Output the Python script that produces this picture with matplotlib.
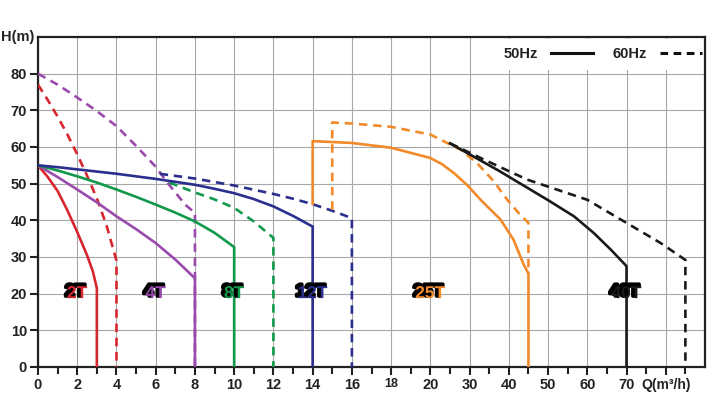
import numpy as np
import matplotlib
matplotlib.use("Agg")
import matplotlib.pyplot as plt
import matplotlib.patheffects as pe
from matplotlib.lines import Line2D

plt.rcParams['font.family'] = ['Liberation Sans', 'DejaVu Sans']

# ---------------- data ----------------
# 2T
q_2t_50 = [0, 0.5, 1, 1.5, 2, 2.5, 2.8, 3, 3]
h_2t_50 = [55, 51.8, 48, 42.7, 36.8, 30.5, 26, 21.5, 0]
q_2t_60 = [0, 0.5, 1, 1.5, 2, 2.5, 3, 3.5, 4, 4]
h_2t_60 = [77, 72.8, 68.3, 63.4, 58, 52.2, 46, 38.5, 29, 0]
# 4T
q_4t_50 = [0, 1, 2, 3, 4, 5, 6, 7, 8, 8]
h_4t_50 = [55, 51.8, 48.4, 44.9, 41.1, 37.6, 33.8, 29.3, 24.2, 0]
q_4t_60 = [0, 1, 2, 3, 4, 5, 6, 6.7, 7.5, 8, 8]
h_4t_60 = [80, 77, 73.5, 69.8, 65.7, 60.3, 54.6, 49.6, 44.3, 42, 0]
# 8T
q_8t_50 = [0, 1, 2, 3, 4, 5, 6, 7, 8, 9, 10, 10]
h_8t_50 = [55, 53.6, 52, 50.3, 48.4, 46.4, 44.3, 42.1, 39.7, 36.6, 32.7, 0]
q_8t_60 = [6.7, 8, 9, 10, 11, 12, 12]
h_8t_60 = [50.3, 47.6, 45.7, 43.4, 39.7, 35.2, 0]
# 12T
q_12t_50 = [0, 1, 2, 3, 4, 5, 6, 7, 8, 9, 10, 11, 12, 13, 14, 14]
h_12t_50 = [55, 54.5, 53.9, 53.3, 52.7, 52, 51.3, 50.5, 49.7, 48.6, 47.4, 45.8, 43.8, 41.2, 38.3, 0]
q_12t_60 = [6.2, 8, 10, 12, 13, 14, 15, 16, 16]
h_12t_60 = [52.7, 51.4, 49.5, 47.2, 45.9, 44.4, 42.6, 40.6, 0]
# 25T
q_25t_50 = [14, 14, 16, 18, 20, 23, 26, 29.5, 32.8, 37.9, 41.2, 43.8, 45, 45]
h_25t_50 = [44.5, 61.6, 61.1, 59.8, 57, 55.3, 52.9, 49.5, 45.6, 40.2, 34.7, 27.9, 25.5, 0]
q_25t_60 = [15, 15, 16, 18, 20, 25, 27.7, 31.9, 36.2, 39.6, 42.5, 45, 45]
h_25t_60 = [42.9, 66.7, 66.4, 65.5, 63.4, 60.7, 59.3, 55.6, 50.6, 45.6, 42, 39.3, 25.5]
# 40T
q_40t_50 = [25, 37.5, 50, 56.6, 61.7, 66, 70, 70]
h_40t_50 = [61, 53.5, 45.5, 41.1, 36.5, 32, 27.5, 0]
q_40t_60 = [25, 33.6, 44.7, 60, 70, 78.7, 85, 85]
h_40t_60 = [61, 56.6, 51.1, 45.6, 39.3, 33.8, 29.2, 0]

series = [
    ("2T", "#d7262e", q_2t_50, h_2t_50, q_2t_60, h_2t_60, 2),
    ("4T", "#9a4aad", q_4t_50, h_4t_50, q_4t_60, h_4t_60, 6),
    ("8T", "#10994a", q_8t_50, h_8t_50, q_8t_60, h_8t_60, 10),
    ("12T", "#2b2f8e", q_12t_50, h_12t_50, q_12t_60, h_12t_60, 14),
    ("25T", "#f28a2a", q_25t_50, h_25t_50, q_25t_60, h_25t_60, 20),
    ("40T", "#1a1a1a", q_40t_50, h_40t_50, q_40t_60, h_40t_60, 70),
]
label_h = 20

x_major = [0, 2, 4, 6, 8, 10, 12, 14, 16, 18, 20, 30, 40, 50, 60, 70, 80]
x_labels = ["0", "2", "4", "6", "8", "10", "12", "14", "16", "18", "20",
            "30", "40", "50", "60", "70", "Q(m³/h)"]
x_minor = [1, 3, 5, 7, 9, 11, 13, 15, 17, 19, 25, 35, 45, 55, 65, 75, 85]
y_major = [0, 10, 20, 30, 40, 50, 60, 70, 80]


def fwd(x):
    x = np.asarray(x, dtype=float)
    return np.where(x <= 20, x / 2.0, 10 + (x - 20) / 10.0)


def inv(i):
    i = np.asarray(i, dtype=float)
    return np.where(i <= 10, i * 2.0, 20 + (i - 10) * 10.0)


fig = plt.figure(figsize=(7.2, 3.93), dpi=100)
ax = fig.add_axes([38 / 720, 26 / 393, 667 / 720, 330 / 393])
ax.set_xscale('function', functions=(fwd, inv))
ax.set_xlim(0, 90)
ax.set_ylim(0, 90)

ax.set_xticks(x_major)
ax.set_xticklabels(x_labels)
ax.set_xticks(x_minor, minor=True)
ax.set_yticks(y_major)
ax.grid(True, which='major', color='#a8a8a8', lw=0.8)
ax.set_axisbelow(True)

for s in ax.spines.values():
    s.set_color('#222222')
    s.set_linewidth(1.6)

ax.tick_params(axis='both', which='major', direction='out', length=6, width=1.5,
               color='#222222', labelsize=10.5, pad=2)
ax.tick_params(axis='x', which='minor', direction='out', length=5, width=1.5,
               color='#222222')
for lab in ax.get_xticklabels() + ax.get_yticklabels():
    lab.set_fontweight('bold')
    lab.set_color('#222222')
xl = ax.get_xticklabels()
xl[9].set_fontsize(9)
xl[-1].set_fontsize(10)

lw = 1.9
for name, col, q50, h50, q60, h60, lq in series:
    ax.plot(q60, h60, color=col, lw=lw, ls=(0, (3.2, 2.2)), zorder=3)
    ax.plot(q50, h50, color=col, lw=lw, ls='-', zorder=4)
    ax.text(lq, label_h, name, color=col, fontsize=12.5, fontweight='bold',
            ha='center', va='center', zorder=6,
            path_effects=[pe.Stroke(linewidth=2.5, foreground='black', offset=(-1.5, 1.5)),
                          pe.Normal()])

ax.text(-0.006, 1.0, 'H(m)', transform=ax.transAxes, ha='right', va='center',
        fontsize=10.5, fontweight='bold', color='#222222')

handles = [Line2D([], [], color='#111111', lw=2.2, ls='-'),
           Line2D([], [], color='#111111', lw=2.2, ls=(0, (2.5, 1.8)))]
leg = ax.legend(handles, ['50Hz', '60Hz'], loc='upper right', bbox_to_anchor=(1.0086, 0.995),
                ncol=2, markerfirst=False, frameon=True, fancybox=False,
                edgecolor='none', facecolor='white', framealpha=1,
                handlelength=2.9, columnspacing=1.3, handletextpad=0.9,
                borderaxespad=0, borderpad=0.6,
                prop={'weight': 'bold', 'size': 10.5})
for t in leg.get_texts():
    t.set_color('#222222')
leg.set_zorder(2)

fig.savefig('out.png', dpi=100)
